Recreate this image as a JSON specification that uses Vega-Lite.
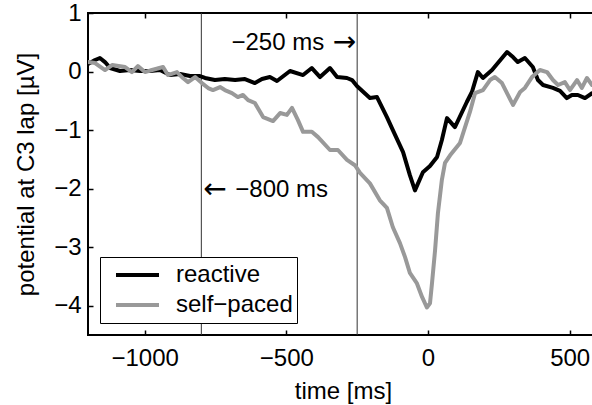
{
  "$schema": "https://vega.github.io/schema/vega-lite/v6.json",
  "width": 510,
  "height": 322,
  "autosize": {"type": "none"},
  "padding": {"left": 88, "top": 13, "right": -6, "bottom": 70},
  "background": "white",
  "config": {
    "font": "Liberation Sans",
    "view": {"stroke": "black", "strokeWidth": 2},
    "axis": {"grid": false, "domain": false, "tickColor": "black", "tickWidth": 1.5, "tickSize": -5, "labelFontSize": 24, "labelColor": "black", "titleFontSize": 24, "titleFontWeight": "normal", "titleColor": "black", "labelFont": "Liberation Sans", "titleFont": "Liberation Sans"}
  },
  "datasets": {
    "curves": [
      {"t": -1200, "v": 0.128, "condition": "reactive"},
      {"t": -1175, "v": 0.197, "condition": "reactive"},
      {"t": -1158, "v": 0.231, "condition": "reactive"},
      {"t": -1140, "v": 0.162, "condition": "reactive"},
      {"t": -1122, "v": 0.06, "condition": "reactive"},
      {"t": -1087, "v": 0.009, "condition": "reactive"},
      {"t": -1052, "v": 0.026, "condition": "reactive"},
      {"t": -1016, "v": 0.009, "condition": "reactive"},
      {"t": -981, "v": 0.009, "condition": "reactive"},
      {"t": -946, "v": 0.026, "condition": "reactive"},
      {"t": -911, "v": -0.06, "condition": "reactive"},
      {"t": -875, "v": -0.043, "condition": "reactive"},
      {"t": -840, "v": -0.077, "condition": "reactive"},
      {"t": -805, "v": -0.077, "condition": "reactive"},
      {"t": -787, "v": -0.11, "condition": "reactive"},
      {"t": -752, "v": -0.145, "condition": "reactive"},
      {"t": -717, "v": -0.128, "condition": "reactive"},
      {"t": -681, "v": -0.145, "condition": "reactive"},
      {"t": -646, "v": -0.128, "condition": "reactive"},
      {"t": -611, "v": -0.197, "condition": "reactive"},
      {"t": -586, "v": -0.128, "condition": "reactive"},
      {"t": -558, "v": -0.094, "condition": "reactive"},
      {"t": -533, "v": -0.162, "condition": "reactive"},
      {"t": -487, "v": 0.009, "condition": "reactive"},
      {"t": -441, "v": -0.06, "condition": "reactive"},
      {"t": -410, "v": 0.06, "condition": "reactive"},
      {"t": -381, "v": -0.094, "condition": "reactive"},
      {"t": -346, "v": 0.06, "condition": "reactive"},
      {"t": -321, "v": -0.094, "condition": "reactive"},
      {"t": -286, "v": -0.11, "condition": "reactive"},
      {"t": -268, "v": -0.145, "condition": "reactive"},
      {"t": -251, "v": -0.248, "condition": "reactive"},
      {"t": -205, "v": -0.453, "condition": "reactive"},
      {"t": -180, "v": -0.436, "condition": "reactive"},
      {"t": -145, "v": -0.778, "condition": "reactive"},
      {"t": -124, "v": -1.0, "condition": "reactive"},
      {"t": -88, "v": -1.376, "condition": "reactive"},
      {"t": -64, "v": -1.77, "condition": "reactive"},
      {"t": -46, "v": -2.03, "condition": "reactive"},
      {"t": -18, "v": -1.72, "condition": "reactive"},
      {"t": 7, "v": -1.615, "condition": "reactive"},
      {"t": 32, "v": -1.46, "condition": "reactive"},
      {"t": 49, "v": -1.17, "condition": "reactive"},
      {"t": 67, "v": -0.795, "condition": "reactive"},
      {"t": 95, "v": -0.949, "condition": "reactive"},
      {"t": 137, "v": -0.52, "condition": "reactive"},
      {"t": 155, "v": -0.35, "condition": "reactive"},
      {"t": 176, "v": -0.009, "condition": "reactive"},
      {"t": 194, "v": -0.11, "condition": "reactive"},
      {"t": 226, "v": 0.026, "condition": "reactive"},
      {"t": 279, "v": 0.333, "condition": "reactive"},
      {"t": 300, "v": 0.248, "condition": "reactive"},
      {"t": 317, "v": 0.162, "condition": "reactive"},
      {"t": 342, "v": 0.231, "condition": "reactive"},
      {"t": 370, "v": 0.077, "condition": "reactive"},
      {"t": 388, "v": -0.145, "condition": "reactive"},
      {"t": 406, "v": -0.23, "condition": "reactive"},
      {"t": 441, "v": -0.28, "condition": "reactive"},
      {"t": 466, "v": -0.33, "condition": "reactive"},
      {"t": 490, "v": -0.453, "condition": "reactive"},
      {"t": 508, "v": -0.4, "condition": "reactive"},
      {"t": 529, "v": -0.4, "condition": "reactive"},
      {"t": 554, "v": -0.453, "condition": "reactive"},
      {"t": 579, "v": -0.37, "condition": "reactive"},
      {"t": 600, "v": -0.4, "condition": "reactive"},
      {"t": -1200, "v": 0.162, "condition": "self−paced"},
      {"t": -1175, "v": 0.145, "condition": "self−paced"},
      {"t": -1140, "v": 0.026, "condition": "self−paced"},
      {"t": -1115, "v": 0.111, "condition": "self−paced"},
      {"t": -1069, "v": 0.077, "condition": "self−paced"},
      {"t": -1045, "v": -0.009, "condition": "self−paced"},
      {"t": -1024, "v": 0.094, "condition": "self−paced"},
      {"t": -999, "v": -0.009, "condition": "self−paced"},
      {"t": -974, "v": 0.026, "condition": "self−paced"},
      {"t": -935, "v": 0.077, "condition": "self−paced"},
      {"t": -918, "v": -0.06, "condition": "self−paced"},
      {"t": -886, "v": -0.009, "condition": "self−paced"},
      {"t": -865, "v": -0.111, "condition": "self−paced"},
      {"t": -847, "v": -0.18, "condition": "self−paced"},
      {"t": -822, "v": -0.094, "condition": "self−paced"},
      {"t": -798, "v": -0.197, "condition": "self−paced"},
      {"t": -776, "v": -0.282, "condition": "self−paced"},
      {"t": -759, "v": -0.316, "condition": "self−paced"},
      {"t": -734, "v": -0.265, "condition": "self−paced"},
      {"t": -717, "v": -0.316, "condition": "self−paced"},
      {"t": -692, "v": -0.368, "condition": "self−paced"},
      {"t": -671, "v": -0.436, "condition": "self−paced"},
      {"t": -653, "v": -0.4, "condition": "self−paced"},
      {"t": -635, "v": -0.487, "condition": "self−paced"},
      {"t": -611, "v": -0.538, "condition": "self−paced"},
      {"t": -582, "v": -0.778, "condition": "self−paced"},
      {"t": -547, "v": -0.846, "condition": "self−paced"},
      {"t": -522, "v": -0.709, "condition": "self−paced"},
      {"t": -498, "v": -0.74, "condition": "self−paced"},
      {"t": -480, "v": -0.62, "condition": "self−paced"},
      {"t": -459, "v": -0.83, "condition": "self−paced"},
      {"t": -441, "v": -1.03, "condition": "self−paced"},
      {"t": -410, "v": -1.03, "condition": "self−paced"},
      {"t": -388, "v": -1.12, "condition": "self−paced"},
      {"t": -346, "v": -1.34, "condition": "self−paced"},
      {"t": -318, "v": -1.34, "condition": "self−paced"},
      {"t": -286, "v": -1.51, "condition": "self−paced"},
      {"t": -258, "v": -1.6, "condition": "self−paced"},
      {"t": -240, "v": -1.73, "condition": "self−paced"},
      {"t": -205, "v": -1.91, "condition": "self−paced"},
      {"t": -170, "v": -2.2, "condition": "self−paced"},
      {"t": -145, "v": -2.33, "condition": "self−paced"},
      {"t": -124, "v": -2.66, "condition": "self−paced"},
      {"t": -99, "v": -2.93, "condition": "self−paced"},
      {"t": -81, "v": -3.17, "condition": "self−paced"},
      {"t": -64, "v": -3.44, "condition": "self−paced"},
      {"t": -39, "v": -3.62, "condition": "self−paced"},
      {"t": -21, "v": -3.85, "condition": "self−paced"},
      {"t": -4, "v": -4.03, "condition": "self−paced"},
      {"t": 7, "v": -3.96, "condition": "self−paced"},
      {"t": 14, "v": -3.62, "condition": "self−paced"},
      {"t": 25, "v": -3.05, "condition": "self−paced"},
      {"t": 35, "v": -2.42, "condition": "self−paced"},
      {"t": 49, "v": -1.85, "condition": "self−paced"},
      {"t": 60, "v": -1.56, "condition": "self−paced"},
      {"t": 78, "v": -1.43, "condition": "self−paced"},
      {"t": 113, "v": -1.22, "condition": "self−paced"},
      {"t": 148, "v": -0.69, "condition": "self−paced"},
      {"t": 166, "v": -0.37, "condition": "self−paced"},
      {"t": 194, "v": -0.316, "condition": "self−paced"},
      {"t": 219, "v": -0.145, "condition": "self−paced"},
      {"t": 236, "v": -0.094, "condition": "self−paced"},
      {"t": 261, "v": -0.197, "condition": "self−paced"},
      {"t": 282, "v": -0.4, "condition": "self−paced"},
      {"t": 300, "v": -0.57, "condition": "self−paced"},
      {"t": 325, "v": -0.35, "condition": "self−paced"},
      {"t": 342, "v": -0.28, "condition": "self−paced"},
      {"t": 367, "v": -0.094, "condition": "self−paced"},
      {"t": 395, "v": 0.026, "condition": "self−paced"},
      {"t": 420, "v": -0.009, "condition": "self−paced"},
      {"t": 441, "v": -0.145, "condition": "self−paced"},
      {"t": 459, "v": -0.23, "condition": "self−paced"},
      {"t": 483, "v": -0.18, "condition": "self−paced"},
      {"t": 501, "v": -0.316, "condition": "self−paced"},
      {"t": 526, "v": -0.145, "condition": "self−paced"},
      {"t": 543, "v": -0.28, "condition": "self−paced"},
      {"t": 561, "v": -0.11, "condition": "self−paced"},
      {"t": 579, "v": -0.23, "condition": "self−paced"},
      {"t": 600, "v": -0.18, "condition": "self−paced"}
    ],
    "markers": [
      {"t": -800},
      {"t": -250}
    ],
    "notes": [
      {"t": -250, "v": 0.49, "label": "−250 ms", "arrow": "→", "side": "right"},
      {"t": -800, "v": -2.03, "label": "−800 ms", "arrow": "←", "side": "left"}
    ]
  },
  "layer": [
    {
      "data": {"name": "markers"},
      "mark": {"type": "rule", "color": "#333333", "strokeWidth": 1},
      "encoding": {
        "x": {"field": "t", "type": "quantitative", "axis": null, "scale": {"domain": [-1200, 600], "nice": false}}
      }
    },
    {
      "data": {"name": "curves"},
      "mark": {"type": "line", "strokeWidth": 4, "strokeJoin": "round", "strokeCap": "round", "clip": true},
      "encoding": {
        "x": {"field": "t", "type": "quantitative", "scale": {"domain": [-1200, 600], "nice": false},
              "axis": {"orient": "bottom", "values": [-1000, -500, 0, 500], "format": "d", "title": "time [ms]", "labelPadding": 16, "titlePadding": 9, "labelFlush": false}},
        "y": {"field": "v", "type": "quantitative", "scale": {"domain": [-4.5, 1], "nice": false, "zero": false},
              "axis": {"orient": "left", "values": [-4, -3, -2, -1, 0, 1], "format": "d", "title": "potential at C3 lap [µV]", "labelPadding": 12, "titlePadding": 15, "labelFlush": false}},
        "color": {"field": "condition", "type": "nominal",
                  "scale": {"domain": ["reactive", "self−paced"], "range": ["#000000", "#999999"]},
                  "legend": {"title": null, "orient": "none", "legendX": 12, "legendY": 244, "symbolType": "stroke", "symbolSize": 1849, "symbolStrokeWidth": 4, "clipHeight": 28, "labelFontSize": 24, "labelColor": "black", "labelOffset": 15, "padding": 4, "symbolOffset": 10, "rowPadding": 2, "strokeColor": "black", "fillColor": "white"}}
      }
    },
    {
      "data": {"name": "notes"},
      "transform": [{"filter": "datum.side == 'right'"}],
      "mark": {"type": "text", "align": "right", "baseline": "middle", "dx": -33, "fontSize": 24, "color": "black"},
      "encoding": {
        "x": {"field": "t", "type": "quantitative", "axis": {"orient": "top", "values": [-1000, -500, 0, 500], "labels": false, "title": null}},
        "y": {"field": "v", "type": "quantitative", "axis": {"orient": "right", "values": [-4, -3, -2, -1, 0, 1], "labels": false, "title": null}},
        "text": {"field": "label"}
      }
    },
    {
      "data": {"name": "notes"},
      "transform": [{"filter": "datum.side == 'right'"}],
      "mark": {"type": "text", "align": "right", "baseline": "middle", "dx": -1, "fontSize": 28, "font": "DejaVu Sans", "color": "black"},
      "encoding": {
        "x": {"field": "t", "type": "quantitative", "axis": null},
        "y": {"field": "v", "type": "quantitative", "axis": null},
        "text": {"field": "arrow"}
      }
    },
    {
      "data": {"name": "notes"},
      "transform": [{"filter": "datum.side == 'left'"}],
      "mark": {"type": "text", "align": "left", "baseline": "middle", "dx": 34, "fontSize": 24, "color": "black"},
      "encoding": {
        "x": {"field": "t", "type": "quantitative", "axis": null},
        "y": {"field": "v", "type": "quantitative", "axis": null},
        "text": {"field": "label"}
      }
    },
    {
      "data": {"name": "notes"},
      "transform": [{"filter": "datum.side == 'left'"}],
      "mark": {"type": "text", "align": "left", "baseline": "middle", "dx": 2, "fontSize": 28, "font": "DejaVu Sans", "color": "black"},
      "encoding": {
        "x": {"field": "t", "type": "quantitative", "axis": null},
        "y": {"field": "v", "type": "quantitative", "axis": null},
        "text": {"field": "arrow"}
      }
    }
  ],
  "resolve": {"axis": {"x": "independent", "y": "independent"}}
}
